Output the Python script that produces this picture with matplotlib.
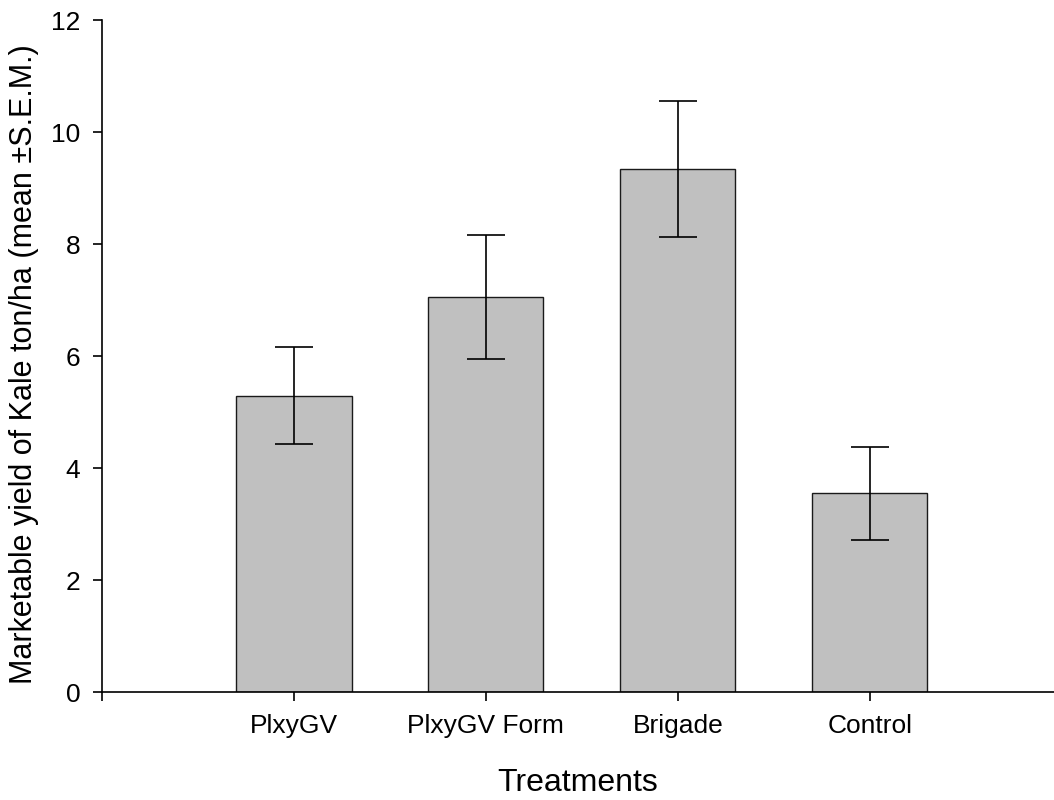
import numpy as np
import matplotlib.pyplot as plt

plt.rcParams['font.family'] = ['Liberation Sans', 'DejaVu Sans']

# marketable kale yield per treatment
treatments = ['PlxyGV', 'PlxyGV Form', 'Brigade', 'Control']
yield_mean = [5.29, 7.05, 9.34, 3.55]
yield_sem = [0.865, 1.11, 1.21, 0.83]

x = np.arange(len(treatments))

fig = plt.figure(figsize=(10.54, 8), dpi=100)
ax = fig.add_axes([0.0968, 0.135, 0.9032, 0.84])

ax.bar(x, yield_mean, width=0.6, color='#c0c0c0', edgecolor='#1a1a1a', linewidth=1.0, zorder=2)
ax.errorbar(x, yield_mean, yerr=yield_sem, fmt='none', ecolor='black',
            elinewidth=1.2, capsize=13.5, capthick=1.2, zorder=3)

ax.set_xlim(-1, 3.96)
ax.set_ylim(0, 12)
ax.set_yticks(range(0, 13, 2))
ax.set_xticks([-1] + list(x))
ax.set_xticklabels([''] + treatments)

for side in ['top', 'right']:
    ax.spines[side].set_visible(False)
for side in ['left', 'bottom']:
    ax.spines[side].set_linewidth(1.2)

ax.tick_params(axis='both', direction='out', length=6.5, width=1.2, labelsize=19)
ax.tick_params(axis='y', pad=9)
ax.tick_params(axis='x', pad=9)

ax.set_xlabel('Treatments', fontsize=23, labelpad=22)
ax.set_ylabel('Marketable yield of Kale ton/ha (mean ±S.E.M.)', fontsize=22, labelpad=9)
ax.yaxis.label.set_y(0.488)

fig.savefig('out.png', dpi=100)
